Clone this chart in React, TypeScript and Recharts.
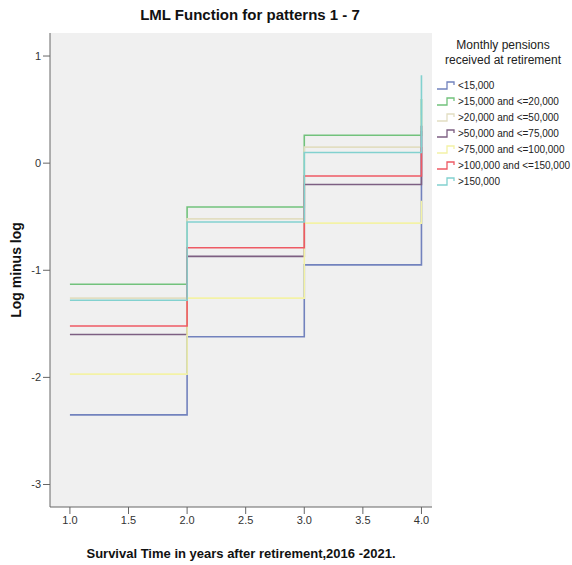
import React from "react";
import { LineChart, Line, XAxis, YAxis, CartesianGrid } from "recharts";

const times = [1, 2, 3, 4];

const under15k = [-2.35, -1.62, -0.95, 0.3];
const from15to20k = [-1.13, -0.41, 0.26, 0.6];
const from20to50k = [-1.26, -0.52, 0.15, 0.45];
const from50to75k = [-1.6, -0.87, -0.2, 0.35];
const from75to100k = [-1.97, -1.26, -0.56, -0.35];
const from100to150k = [-1.52, -0.79, -0.12, 0.15];
const over150k = [-1.28, -0.55, 0.1, 0.82];

const xTicks = [1, 1.5, 2, 2.5, 3, 3.5, 4];
const yTicks = [-3, -2, -1, 0, 1];

const series = [
  { key: "s1", name: "<15,000", values: under15k, color: "#7282bd" },
  { key: "s2", name: ">15,000 and <=20,000", values: from15to20k, color: "#72c27c" },
  { key: "s3", name: ">20,000 and <=50,000", values: from20to50k, color: "#e2dec2" },
  { key: "s4", name: ">50,000 and <=75,000", values: from50to75k, color: "#7d5f82" },
  { key: "s5", name: ">75,000 and <=100,000", values: from75to100k, color: "#f3f2a6" },
  { key: "s6", name: ">100,000 and <=150,000", values: from100to150k, color: "#ee5a64" },
  { key: "s7", name: ">150,000", values: over150k, color: "#82d1cf" },
];

const data = times.map((t, i) => {
  const row: Record<string, number> = { t };
  series.forEach((s) => (row[s.key] = s.values[i]));
  return row;
});

const font = "'Liberation Sans', Arial, sans-serif";

function StepLegend() {
  return (
    <div style={{ position: "absolute", left: 434, top: 38, width: 138, fontFamily: font, color: "#222" }}>
      <div style={{ textAlign: "center", fontSize: 12, lineHeight: "15px", marginBottom: 9 }}>
        Monthly pensions
        <br />
        received at retirement
      </div>
      {series.map((s) => (
        <div key={s.key} style={{ display: "flex", alignItems: "center", height: 16, fontSize: 10 }}>
          <svg width={20} height={12} style={{ marginLeft: 3, marginRight: 1, flexShrink: 0 }}>
            <path d="M0 10 H10 V3 H17 V6" fill="none" stroke={s.color} strokeWidth={1.3} />
          </svg>
          <span style={{ whiteSpace: "nowrap" }}>{s.name}</span>
        </div>
      ))}
    </div>
  );
}

export default function App() {
  return (
    <div style={{ position: "absolute", left: 0, top: 0, width: 572, height: 565, background: "#fff" }}>
      <div
        style={{
          position: "absolute",
          left: 50,
          width: 400,
          top: 6,
          textAlign: "center",
          fontFamily: font,
          fontWeight: "bold",
          fontSize: 15,
          color: "#111",
        }}
      >
        LML Function for patterns 1 - 7
      </div>
      <LineChart width={572} height={565} data={data} margin={{ top: 33, right: 140, bottom: 0, left: 0 }}>
        <CartesianGrid fill="#f0f0f0" horizontal={false} vertical={false} />
        <XAxis
          dataKey="t"
          type="number"
          domain={[0.83, 4.09]}
          ticks={xTicks}
          tickFormatter={(v: number) => v.toFixed(1)}
          allowDataOverflow
          height={58}
          stroke="#666"
          tickSize={7}
          tick={{ fontSize: 11, fill: "#333", fontFamily: font }}
          label={{
            value: "Survival Time in years after retirement,2016 -2021.",
            position: "insideBottom",
            offset: 7,
            style: { fontFamily: font, fontWeight: "bold", fontSize: 13, fill: "#111" },
          }}
        />
        <XAxis xAxisId="top" orientation="top" type="number" domain={[0, 1]} height={0} tick={false} tickLine={false} stroke="#666" />
        <YAxis
          type="number"
          domain={[-3.21, 1.215]}
          ticks={yTicks}
          allowDataOverflow
          width={50}
          stroke="#666"
          tickSize={7}
          tick={{ fontSize: 11, fill: "#333", fontFamily: font }}
          label={{
            value: "Log minus log",
            angle: -90,
            position: "insideLeft",
            offset: 16,
            style: { textAnchor: "middle", fontFamily: font, fontWeight: "bold", fontSize: 14, fill: "#111" },
          }}
        />
        <YAxis yAxisId="right" orientation="right" type="number" domain={[0, 1]} width={0} tick={false} tickLine={false} stroke="#666" />
        {series.map((s) => (
          <Line
            key={s.key}
            dataKey={s.key}
            name={s.name}
            type="stepAfter"
            stroke={s.color}
            strokeWidth={1.6}
            dot={false}
            isAnimationActive={false}
          />
        ))}
      </LineChart>
      <StepLegend />
    </div>
  );
}
